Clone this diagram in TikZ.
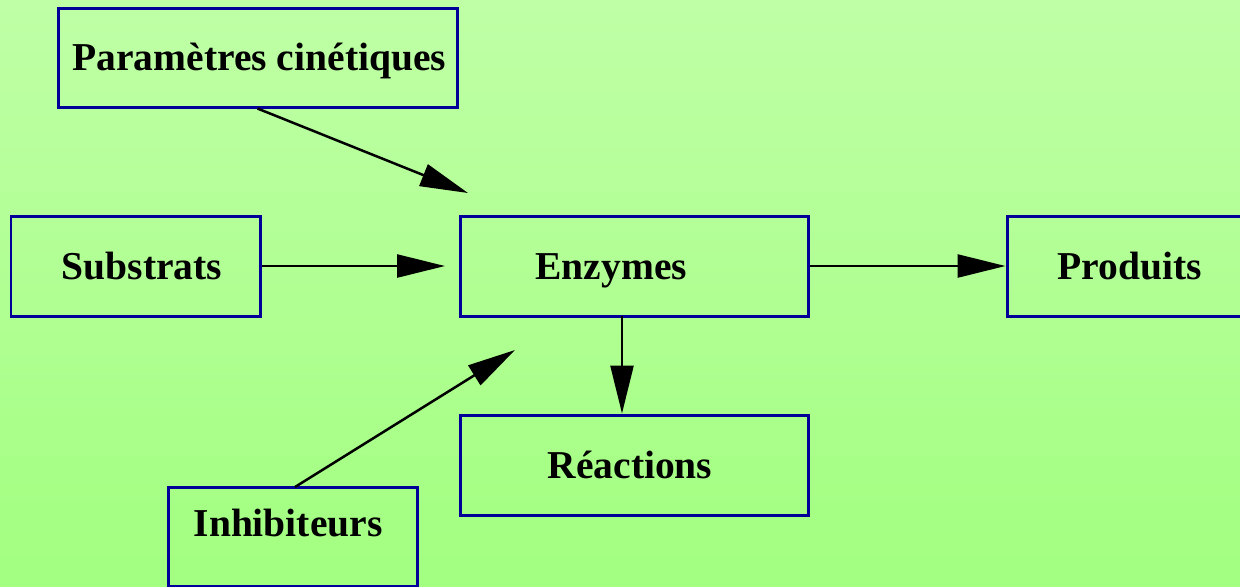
\documentclass[tikz,border=0pt]{standalone}
\usepackage{fontspec}
\setmainfont{Liberation Serif}
\definecolor{bgtop}{HTML}{BFFFA6}
\definecolor{bgbot}{HTML}{A2FF80}
\definecolor{boxblue}{HTML}{000099}
\usetikzlibrary{arrows.meta, positioning}
\newcommand{\flow}[2]
{
	\draw[-{Triangle[length=0.96cm,width=0.46cm]}] (#1) -- (#2)
}

\begin{document}
\begin{tikzpicture}[x=0.02cm, y=-0.02cm,
every node/.append style={shape=rectangle, draw=boxblue, line width=0.06cm, inner sep=0pt,
  font=\fontsize{22.5}{27}\selectfont\bfseries},
every label/.append style={draw=none, text height=15.3pt, text depth=0pt},
line width=0.05cm]

\shade[top color=bgtop, bottom color=bgbot] (0,0) rectangle (1240,586);
\useasboundingbox (0,0) rectangle (1240,586);

\node[minimum width=0.02cm*399, minimum height=0.02cm*99,
  label={[xshift=1pt]center:Paramètres cinétiques}] at (257.5, 57.5) (param){};
\node[minimum width=0.02cm*249, minimum height=0.02cm*100,
  label={[xshift=3.7pt]center:Substrats}] at (135.5, 266) (subs){};
\node[minimum width=0.02cm*348, minimum height=0.02cm*100,
  label={[xshift=-13pt]center:Enzymes}] at (634, 266) (enz){};
\node[minimum width=0.02cm*249, minimum height=0.02cm*100,
  label={[xshift=-1pt]center:Produits}] at (1131.5, 266) (prod){};
\node[minimum width=0.02cm*348, minimum height=0.02cm*100,
  label={[xshift=-2.3pt]center:Réactions}] at (634, 465) (react){};
\node[minimum width=0.02cm*249, minimum height=0.02cm*99,
  label={[xshift=-2.5pt, yshift=7.6pt]center:Inhibiteurs}] at (292.5, 536.5) (inhib){};

\coordinate (paramtip) at (468, 193);
\coordinate (substip) at (445, 266);
\coordinate (inhibtip) at (515, 350);
\coordinate (enzfoot) at (622, 316);
\coordinate (inhibtop) at (295, 487);

\flow{param.south}{paramtip};
\flow{subs.east}{substip};
\flow{enz.east}{prod.west};
\flow{enzfoot}{enzfoot |- react.north};
\flow{inhibtop}{inhibtip};
\end{tikzpicture}
\end{document}
